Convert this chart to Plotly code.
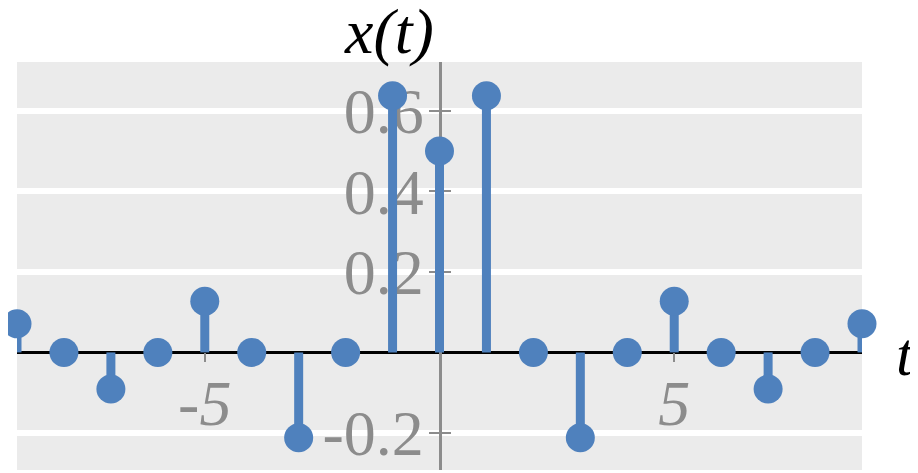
import plotly.graph_objects as go

t_vals = [-9, -8, -7, -6, -5, -4, -3, -2, -1, 0, 1, 2, 3, 4, 5, 6, 7, 8, 9]
x_vals = [0.071, 0.0, -0.091, 0.0, 0.127, 0.0, -0.212, 0.0, 0.637, 0.5,
          0.637, 0.0, -0.212, 0.0, 0.127, 0.0, -0.091, 0.0, 0.071]
x_ticks = [-5, 5]
x_tick_labels = ["-5", "5"]
y_ticks = [-0.2, 0.2, 0.4, 0.6]
y_tick_labels = ["-0.2", "0.2", "0.4", "0.6"]

BLUE = "#4f81bd"
GREY = "#8c8c8c"
FONT = "Liberation Serif"
Y_RANGE = [-0.2918, 0.7206]
X_RANGE = [-9, 9]

stem_x, stem_y = [], []
for t, v in zip(t_vals, x_vals):
    if v != 0:
        stem_x += [t, t, None]
        stem_y += [0, v, None]

fig = go.Figure()
fig.add_trace(go.Scatter(x=stem_x, y=stem_y, mode="lines",
                         line=dict(color=BLUE, width=9), cliponaxis=False,
                         hoverinfo="skip", showlegend=False))
fig.add_trace(go.Scatter(x=t_vals, y=x_vals, mode="markers",
                         marker=dict(color=BLUE, size=29), cliponaxis=False,
                         showlegend=False))
fig.add_trace(go.Scatter(x=[None], y=[None], yaxis="y2", showlegend=False))

x_pos = (0 - Y_RANGE[0]) / (Y_RANGE[1] - Y_RANGE[0])

fig.update_layout(
    width=910, height=465,
    margin=dict(l=9, r=56, t=54, b=3, autoexpand=False),
    paper_bgcolor="white",
    plot_bgcolor="#ebebeb",
    showlegend=False,
    xaxis=dict(range=X_RANGE, anchor="free", position=x_pos, automargin=False,
               tickvals=x_ticks, ticktext=x_tick_labels,
               ticks="outside", ticklen=9, tickwidth=2, tickcolor=GREY,
               ticklabelstandoff=-14,
               tickfont=dict(family=FONT, size=64, color=GREY, style="italic"),
               showgrid=False, zeroline=False, showline=False,
               layer="below traces"),
    yaxis=dict(range=Y_RANGE, anchor="free", position=0.5, automargin=False,
               tickvals=y_ticks, ticktext=y_tick_labels,
               ticks="outside", ticklen=10, tickwidth=2, tickcolor=GREY,
               ticklabelstandoff=-8,
               tickfont=dict(family=FONT, size=64, color=GREY),
               showgrid=True, gridcolor="white", gridwidth=6,
               zeroline=True, zerolinecolor="black", zerolinewidth=3,
               showline=True, linecolor=GREY, linewidth=3,
               layer="below traces"),
    yaxis2=dict(range=Y_RANGE, overlaying="y", anchor="free", position=0.5,
                automargin=False,
                tickvals=y_ticks, ticks="inside", ticklen=10, tickwidth=2,
                tickcolor=GREY, showticklabels=False, showgrid=False,
                zeroline=False, showline=False, layer="below traces"),
)

fig.add_annotation(text="x(t)", xref="paper", yref="paper", x=0.5, y=1.0735,
                   xanchor="right", yanchor="middle", xshift=-4, yshift=1,
                   showarrow=False,
                   font=dict(family=FONT, size=64, color="black", style="italic"))
fig.add_annotation(text="t", xref="paper", yref="y", x=1.0544, y=0,
                   xanchor="center", yanchor="middle", xshift=-2, yshift=-2,
                   showarrow=False,
                   font=dict(family=FONT, size=62, color="black", style="italic"))

fig.write_html("out.html")
